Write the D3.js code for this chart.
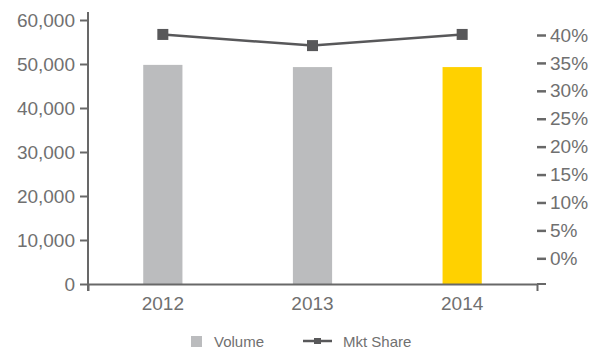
<!DOCTYPE html>
<html>
<head>
<meta charset="utf-8">
<script src="https://cdn.jsdelivr.net/npm/d3@7/dist/d3.min.js"></script>
<style>
  html, body { margin: 0; padding: 0; background: #fff; }
  svg text { font-family: "Liberation Sans", Arial, Helvetica, sans-serif; fill: #707070; }
</style>
</head>
<body>
<svg id="chart" width="602" height="352"></svg>
<script>
// Years on the category axis
const years = ["2012", "2013", "2014"];
// Sales volume (units) per year
const volume = [49800, 49300, 49300];
// Market share per year (fraction)
const mktShare = [0.401, 0.381, 0.401];
// Tick values for both vertical axes
const volumeTicks = [0, 10000, 20000, 30000, 40000, 50000, 60000];
const shareTicks = [0, 0.05, 0.10, 0.15, 0.20, 0.25, 0.30, 0.35, 0.40];
// Bar fill per year; the latest year is highlighted
const barColors = ["#bbbcbe", "#bbbcbe", "#ffd100"];

const svg = d3.select("#chart");
const axisColor = "#686868";
const lineColor = "#58585a";

const x = d3.scaleBand().domain(years).range([88, 537]);
const yLeft = d3.scaleLinear().domain([0, 60000]).range([284, 20]);
const yRight = d3.scaleLinear().domain([0, 0.4]).range([258.3, 35]);
const barW = x.bandwidth() * 0.262;

// Bars
svg.append("g").selectAll("rect")
  .data(years)
  .join("rect")
  .attr("x", (d) => x(d) + x.bandwidth() / 2 - barW / 2)
  .attr("width", barW)
  .attr("y", (d, i) => yLeft(volume[i]))
  .attr("height", (d, i) => yLeft(0) - yLeft(volume[i]))
  .attr("fill", (d, i) => barColors[i]);

// Left axis
const gL = svg.append("g").attr("transform", "translate(88,0)")
  .call(d3.axisLeft(yLeft).tickValues(volumeTicks).tickFormat(d3.format(",")).tickSizeInner(8).tickSizeOuter(0).tickPadding(5));
gL.select(".domain").remove();
gL.selectAll(".tick line").attr("stroke", axisColor).attr("stroke-width", 2);
gL.selectAll(".tick text").attr("font-size", 19).attr("font-family", null);
svg.append("line").attr("x1", 88).attr("x2", 88).attr("y1", 12).attr("y2", 291)
  .attr("stroke", axisColor).attr("stroke-width", 2);

// Bottom axis
const gB = svg.append("g").attr("transform", "translate(0,284)")
  .call(d3.axisBottom(x).tickSizeInner(0).tickSizeOuter(7).tickPadding(13));
gB.select(".domain").attr("stroke", axisColor).attr("stroke-width", 2);
gB.selectAll(".tick text").attr("font-size", 19).attr("font-family", null);
svg.append("line").attr("x1", 537).attr("x2", 546).attr("y1", 284).attr("y2", 284)
  .attr("stroke", axisColor).attr("stroke-width", 2);

// Right axis
const gR = svg.append("g").attr("transform", "translate(537,0)")
  .call(d3.axisRight(yRight).tickValues(shareTicks).tickFormat(d3.format(".0%")).tickSizeInner(9).tickSizeOuter(0).tickPadding(4));
gR.select(".domain").remove();
gR.selectAll(".tick line").attr("stroke", axisColor).attr("stroke-width", 2.5);
gR.selectAll(".tick text").attr("font-size", 19).attr("font-family", null);

// Market share line with square markers
const cx = (d) => x(d) + x.bandwidth() / 2;
const line = d3.line().x((d, i) => cx(years[i])).y((d) => yRight(d));
svg.append("path").datum(mktShare).attr("d", line)
  .attr("fill", "none").attr("stroke", lineColor).attr("stroke-width", 2.5);
svg.append("g").selectAll("rect")
  .data(mktShare)
  .join("rect")
  .attr("x", (d, i) => cx(years[i]) - 5.5)
  .attr("y", (d) => yRight(d) - 5.5)
  .attr("width", 11).attr("height", 11)
  .attr("fill", lineColor);

// Legend
const lg = svg.append("g");
lg.append("rect").attr("x", 191).attr("y", 336).attr("width", 11).attr("height", 11).attr("fill", barColors[0]);
lg.append("text").attr("x", 214).attr("y", 346.5).attr("font-size", 15).text("Volume");
lg.append("line").attr("x1", 303).attr("x2", 332).attr("y1", 341).attr("y2", 341)
  .attr("stroke", lineColor).attr("stroke-width", 2.5);
lg.append("rect").attr("x", 314).attr("y", 338).attr("width", 7).attr("height", 6).attr("fill", lineColor);
lg.append("text").attr("x", 343).attr("y", 346.5).attr("font-size", 15).text("Mkt Share");
</script>
</body>
</html>
